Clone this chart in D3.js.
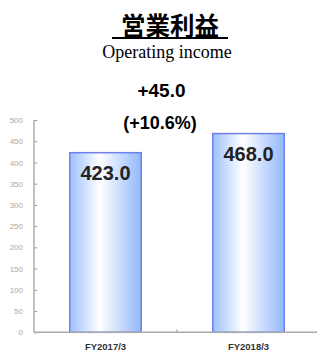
<!DOCTYPE html>
<html>
<head>
<meta charset="utf-8">
<script src="https://cdn.jsdelivr.net/npm/d3@7"></script>
<style>
body{margin:0;background:#fff;}
svg{display:block;}
</style>
</head>
<body>
<div id="chart"></div>
<script>
var categories = ["FY2017/3", "FY2018/3"];
var values = [423.0, 468.0];
var yTicks = [0, 50, 100, 150, 200, 250, 300, 350, 400, 450, 500];
var titleJa = "営業利益";
var titleEn = "Operating income";
var diffText = "+45.0";
var pctText = "(+10.6%)";

var width = 317, height = 351;

var x = d3.scaleBand().domain(categories).range([34, 320]).paddingInner(0.5).paddingOuter(0.25);
var y = d3.scaleLinear().domain([0, 500]).range([332.3, 120]);

var svg = d3.select("#chart").append("svg")
	.attr("width", width)
	.attr("height", height);

var defs = svg.append("defs");
var grad = defs.append("linearGradient")
	.attr("id", "barGrad")
	.attr("x1", "0%").attr("x2", "100%")
	.attr("y1", "0%").attr("y2", "0%");
grad.append("stop").attr("offset", "0%").attr("stop-color", "#9cc0fb");
grad.append("stop").attr("offset", "42%").attr("stop-color", "#ffffff");
grad.append("stop").attr("offset", "100%").attr("stop-color", "#92b8fb");

// titles
svg.append("text")
	.attr("x", 170).attr("y", 35)
	.attr("text-anchor", "middle")
	.style("font-family", "'Noto Sans CJK JP'")
	.style("font-weight", "bold")
	.style("font-size", "24.5px")
	.text(titleJa);
svg.append("line")
	.attr("x1", 112).attr("x2", 228)
	.attr("y1", 38).attr("y2", 38)
	.style("stroke", "#000")
	.style("stroke-width", 2);

svg.append("text")
	.attr("x", 167).attr("y", 58)
	.attr("text-anchor", "middle")
	.style("font-family", "'Liberation Serif'")
	.style("font-size", "18px")
	.text(titleEn);

svg.append("text")
	.attr("x", 161.5).attr("y", 97)
	.attr("text-anchor", "middle")
	.style("font-family", "'Liberation Sans'")
	.style("font-weight", "bold")
	.style("font-size", "19px")
	.text(diffText);

svg.append("text")
	.attr("x", 160).attr("y", 129)
	.attr("text-anchor", "middle")
	.style("font-family", "'Liberation Sans'")
	.style("font-weight", "bold")
	.style("font-size", "18px")
	.text(pctText);

// y axis
var yAxis = d3.axisRight(y).tickValues(yTicks).tickSize(3).tickFormat(d3.format("d"));
var gy = svg.append("g")
	.attr("transform", "translate(34,0)")
	.call(yAxis);
gy.select(".domain").remove();
gy.selectAll(".tick line").style("stroke", "#999");
gy.selectAll(".tick text")
	.attr("x", -11)
	.attr("text-anchor", "end")
	.style("font-family", "'Liberation Sans'")
	.style("font-size", "8px")
	.style("fill", "#aaa");
svg.append("line")
	.attr("x1", 34).attr("x2", 34)
	.attr("y1", y(500)).attr("y2", y(0))
	.style("stroke", "#999").style("stroke-width", 1.2);

// bars
svg.selectAll("rect.bar")
	.data(values).enter()
	.append("rect")
	.attr("class", "bar")
	.attr("x", function(d, i){ return x(categories[i]); })
	.attr("y", function(d){ return y(d); })
	.attr("width", x.bandwidth())
	.attr("height", function(d){ return y(0) - y(d); })
	.style("fill", "url(#barGrad)")
	.style("stroke", "#6f80ec")
	.style("stroke-width", 1.5);

svg.selectAll("text.val")
	.data(values).enter()
	.append("text")
	.attr("class", "val")
	.attr("x", function(d, i){ return x(categories[i]) + x.bandwidth() / 2; })
	.attr("y", function(d){ return y(d) + 27.5; })
	.attr("text-anchor", "middle")
	.style("font-family", "'Liberation Sans'")
	.style("font-weight", "bold")
	.style("font-size", "20px")
	.style("fill", "#222")
	.text(function(d){ return d.toFixed(1); });

// x axis
svg.append("line")
	.attr("x1", 34).attr("x2", 317)
	.attr("y1", y(0)).attr("y2", y(0))
	.style("stroke", "#aaa").style("stroke-width", 1.5);
var mid = (x(categories[0]) + x.bandwidth() + x(categories[1])) / 2;
svg.append("line")
	.attr("x1", mid).attr("x2", mid)
	.attr("y1", y(0)).attr("y2", y(0) - 3)
	.style("stroke", "#999");

svg.selectAll("text.cat")
	.data(categories).enter()
	.append("text")
	.attr("class", "cat")
	.attr("x", function(d){ return x(d) + x.bandwidth() / 2; })
	.attr("y", 350)
	.attr("text-anchor", "middle")
	.style("font-family", "'Liberation Sans'")
	.style("font-weight", "bold")
	.style("font-size", "9.5px")
	.style("fill", "#333")
	.text(function(d){ return d; });
</script>
</body>
</html>
